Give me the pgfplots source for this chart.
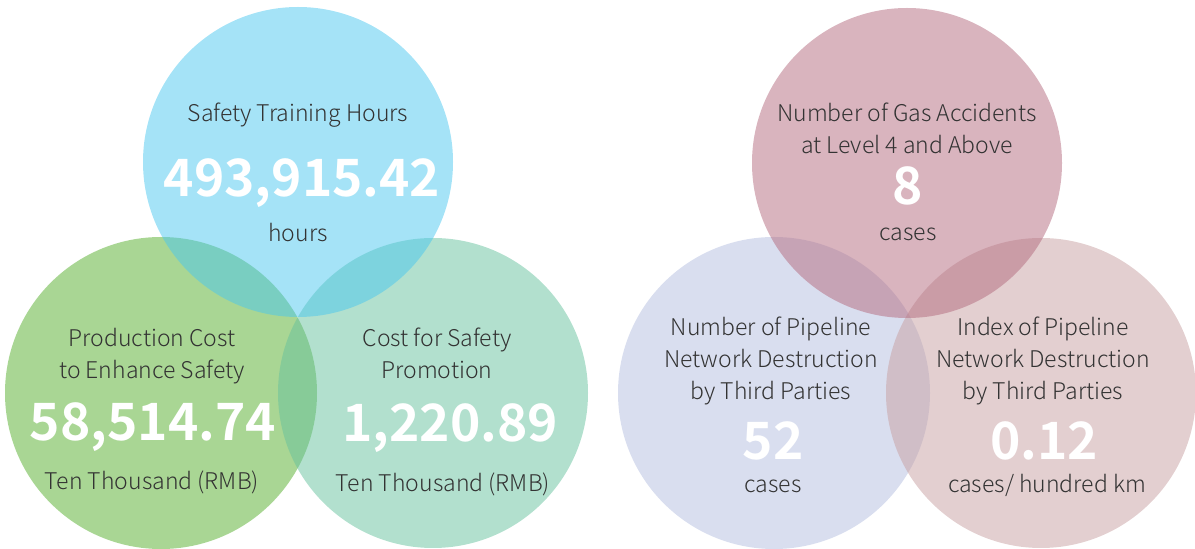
\documentclass[border=0pt]{standalone}
\usepackage{fontspec}
\setmainfont{Noto Sans CJK SC}[UprightFont=* Light, BoldFont=* Bold]
\usepackage{pgfplots}
\pgfplotsset{compat=1.18}
\definecolor{cblue}{RGB}{75,199,239}
\definecolor{cgreen}{RGB}{83,173,41}
\definecolor{cteal}{RGB}{101,193,157}
\definecolor{cpink}{RGB}{179,105,125}
\definecolor{clav}{RGB}{179,189,223}
\definecolor{cbeige}{RGB}{199,159,161}
\definecolor{txt}{RGB}{51,51,51}
\newcommand\lab{\fontsize{23}{28}\selectfont\color{txt}}
\newcommand\num{\fontsize{51.5}{60}\selectfont\bfseries\color{white}}
\tikzset{lbl/.style={anchor=base, inner sep=0pt}}
\begin{document}
\begin{tikzpicture}
\begin{axis}[hide axis, scale only axis, width=1195pt, height=549pt, set layers,
  xmin=0, xmax=1195, ymin=0, ymax=549, y dir=reverse, clip=false]
\addplot[only marks, mark=*, mark size=156pt, draw=none, mark options={draw opacity=0, line width=0pt, fill=cgreen, fill opacity=0.5}] coordinates {(161,393)};
\addplot[only marks, mark=*, mark size=155pt, draw=none, mark options={draw opacity=0, line width=0pt, fill=cteal, fill opacity=0.5}] coordinates {(433,393)};
\addplot[only marks, mark=*, mark size=155pt, draw=none, mark options={draw opacity=0, line width=0pt, fill=cblue, fill opacity=0.5}] coordinates {(298,162)};
\addplot[only marks, mark=*, mark size=156pt, draw=none, mark options={draw opacity=0, line width=0pt, fill=clav, fill opacity=0.5}] coordinates {(774,393)};
\addplot[only marks, mark=*, mark size=155pt, draw=none, mark options={draw opacity=0, line width=0pt, fill=cbeige, fill opacity=0.5}] coordinates {(1041,393)};
\addplot[only marks, mark=*, mark size=155pt, draw=none, mark options={draw opacity=0, line width=0pt, fill=cpink, fill opacity=0.5}] coordinates {(907,163)};
\coordinate (bl) at (axis cs:0,549);
\coordinate (tr) at (axis cs:1195,0);
\begin{pgfonlayer}{axis foreground}
% blue
\node[lbl] at (axis cs:298,122) {\lab Safety Training Hours};
\node[lbl] at (axis cs:302,197) {\num 493,915.42};
\node[lbl] at (axis cs:298,242) {\lab hours};
% green
\node[lbl] at (axis cs:152,347) {\lab Production Cost};
\node[lbl] at (axis cs:152,379) {\lab to Enhance Safety};
\node[lbl] at (axis cs:153,441) {\num 58,514.74};
\node[lbl] at (axis cs:152,490) {\lab Ten Thousand (RMB)};
% teal
\node[lbl] at (axis cs:437,347) {\lab Cost for Safety};
\node[lbl] at (axis cs:437,379) {\lab Promotion};
\node[lbl] at (axis cs:450,442) {\num 1,220.89};
\node[lbl] at (axis cs:443,492) {\lab Ten Thousand (RMB)};
% pink
\node[lbl] at (axis cs:907,122) {\lab Number of Gas Accidents};
\node[lbl] at (axis cs:907,154) {\lab at Level 4 and Above};
\node[lbl] at (axis cs:908,205) {\num 8};
\node[lbl] at (axis cs:908,241) {\lab cases};
% lavender
\node[lbl] at (axis cs:771,336) {\lab Number of Pipeline};
\node[lbl] at (axis cs:771,368) {\lab Network Destruction};
\node[lbl] at (axis cs:771,400) {\lab by Third Parties};
\node[lbl] at (axis cs:773,460) {\num 52};
\node[lbl] at (axis cs:773,493) {\lab cases};
% beige
\node[lbl] at (axis cs:1043,336) {\lab Index of Pipeline};
\node[lbl] at (axis cs:1043,368) {\lab Network Destruction};
\node[lbl] at (axis cs:1043,400) {\lab by Third Parties};
\node[lbl] at (axis cs:1044,460) {\num 0.12};
\node[lbl] at (axis cs:1047,493) {\lab cases/ hundred km};
\end{pgfonlayer}
\end{axis}
\pgfresetboundingbox
\path[use as bounding box] (bl) rectangle (tr);
\end{tikzpicture}
\end{document}
